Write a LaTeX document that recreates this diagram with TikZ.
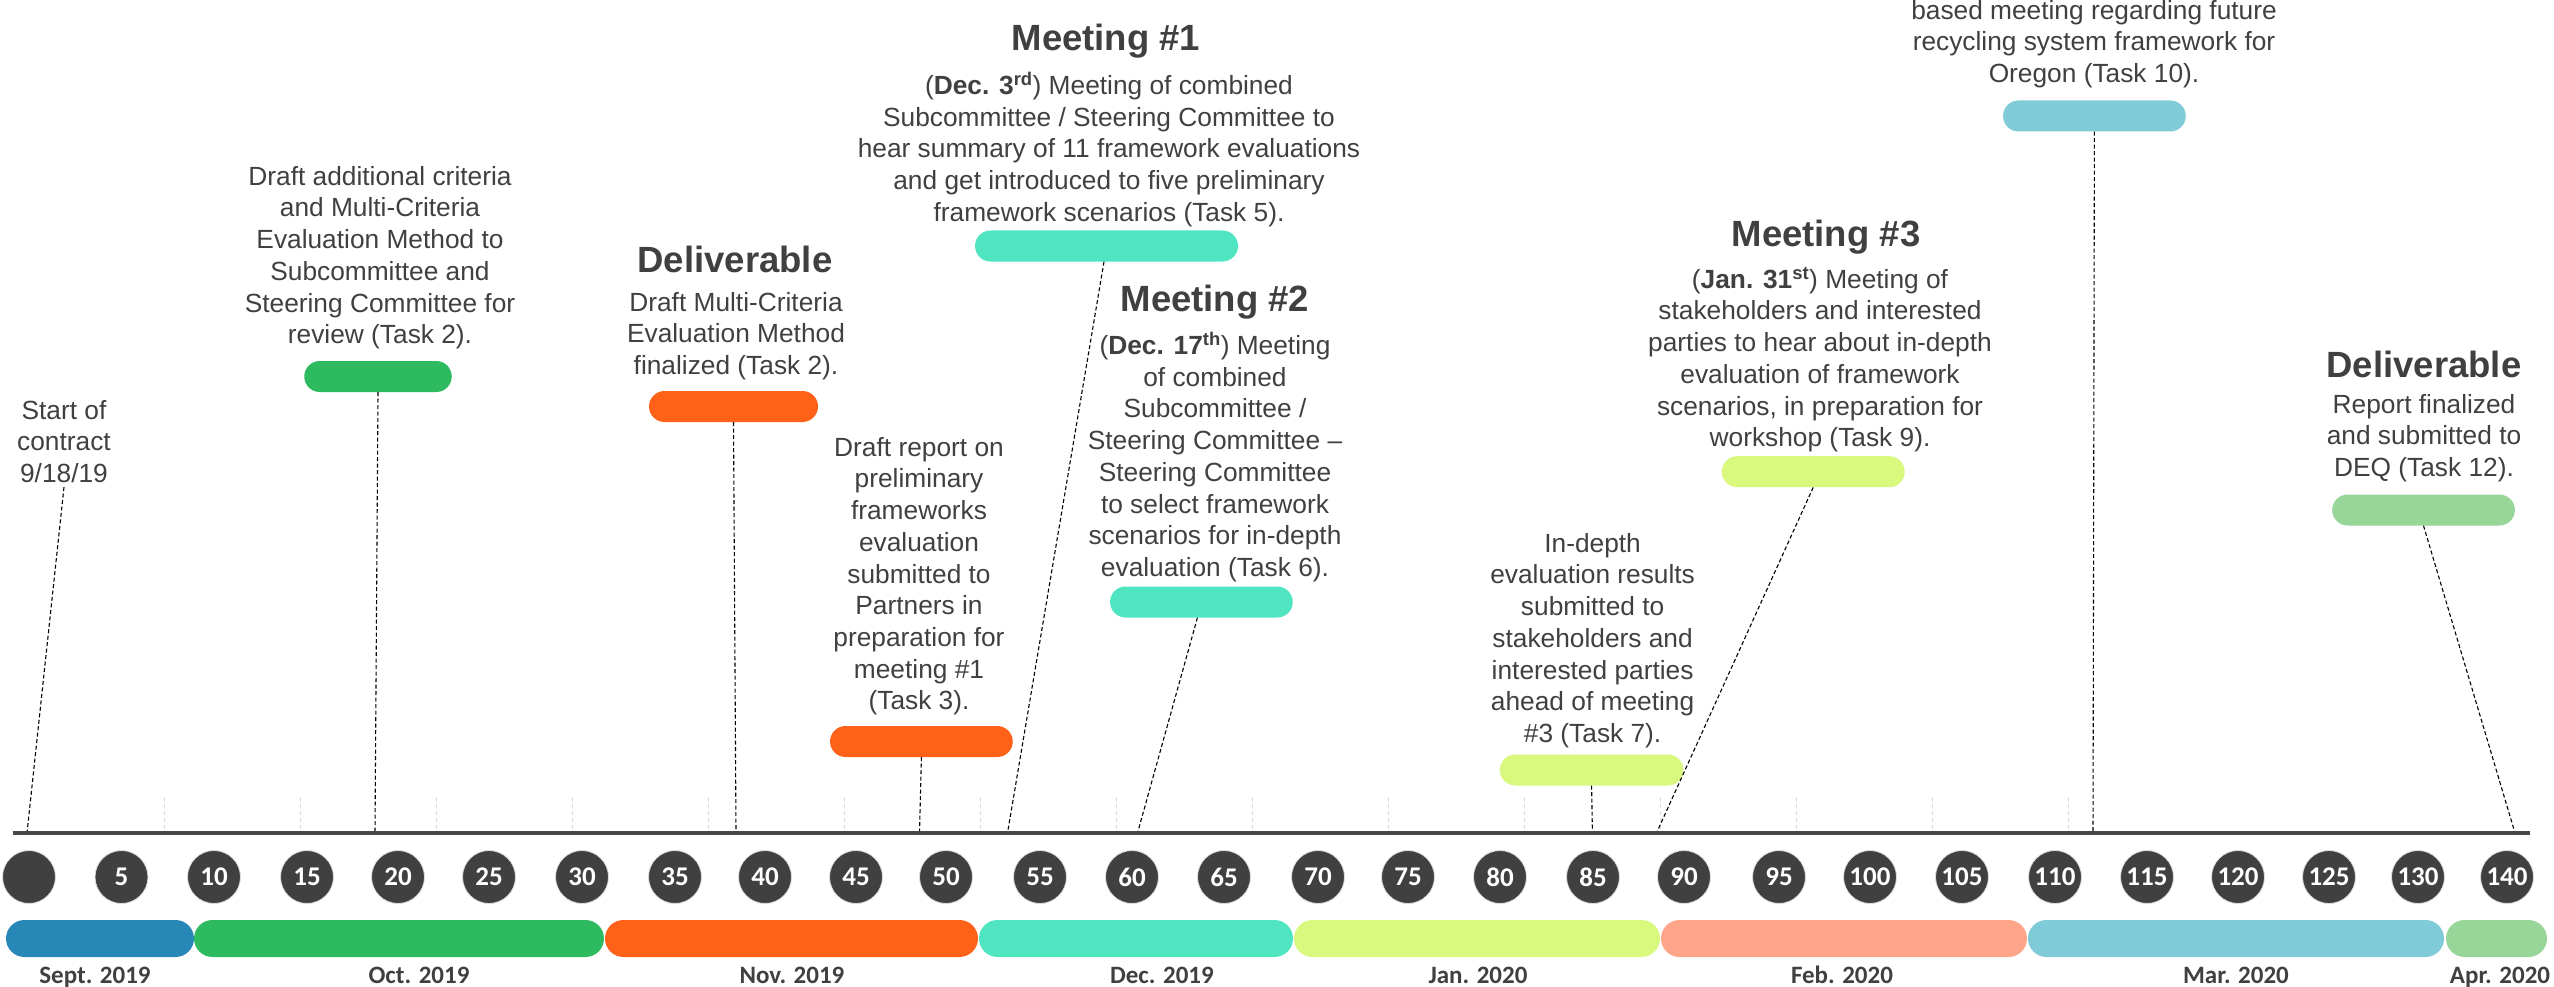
\documentclass[tikz,border=0pt]{standalone}
\usepackage{fontspec}
\setmainfont{Liberation Sans}
\newfontfamily\calib{Carlito}
\definecolor{txtgray}{HTML}{404040}
\definecolor{dotgray}{HTML}{404040}
\definecolor{tickgray}{HTML}{DADADA}
\definecolor{axgray}{HTML}{484848}
\definecolor{cblue}{HTML}{2787B7}
\definecolor{cgreen}{HTML}{2EBB5F}
\definecolor{corange}{HTML}{FF6119}
\definecolor{cteal}{HTML}{50E5C1}
\definecolor{clime}{HTML}{D8F87E}
\definecolor{csalmon}{HTML}{FFA68A}
\definecolor{clblue}{HTML}{80CBD8}
\definecolor{clgreen}{HTML}{98D598}
\tikzset{
 txt/.style={font=\fontsize{26.3}{31.7}\selectfont, text=txtgray, align=center, inner sep=0pt, anchor=north},
 head/.style={font=\fontsize{36.5}{40}\selectfont\bfseries, text=txtgray, inner sep=0pt},
 pill/.style={fill=#1, rounded corners=15.5pt, minimum height=31pt, inner sep=0pt},
 conn/.style={draw=black, line width=1.1pt, dash pattern=on 4pt off 2.5pt},
 gtick/.style={draw=tickgray, line width=1pt, dash pattern=on 4pt off 3pt},
 axisline/.style={draw=axgray, line width=4pt},
 daydot/.style={circle, fill=dotgray, draw=white!75!gray, line width=0.8pt, minimum size=53pt, inner sep=0pt, text=white, font=\calib\bfseries\fontsize{27}{30}\selectfont},
 monthbar/.style={fill=#1, rounded corners=18.5pt, minimum height=37pt, inner sep=0pt},
 monthlbl/.style={font=\calib\bfseries\fontsize{25}{28}\selectfont, text=txtgray, inner sep=0pt, anchor=base}
}
\begin{document}
\begin{tikzpicture}[x=1pt,y=-1pt]
\useasboundingbox (0,0) rectangle (2554,987);
\fill[white] (0,0) rectangle (2554,987);

% light grey ticks above the axis
\foreach \t in {164,300,...,2068} \draw[gtick] (\t,797) -- (\t,833);

% axis
\coordinate (ax0) at (13,833);
\coordinate (ax1) at (2530,833);

% events: texts and pills
\node[txt] (tA) at (64,400) {Start of\\contract\\9/18/19};

\node[txt] (tB) at (380,166) {Draft additional criteria\\and Multi-Criteria\\Evaluation Method to\\Subcommittee and\\Steering Committee for\\review (Task 2).};
\node[pill=cgreen, minimum width=147.5pt] (pB) at (378,376.5) {};

\node[head] (hC) at (735,259) {Deliverable};
\node[txt] (tC) at (736,292) {Draft Multi-Criteria\\Evaluation Method\\finalized (Task 2).};
\node[pill=corange, minimum width=169pt] (pC) at (733.5,406.5) {};

\node[txt] (tD) at (919,437) {Draft report on\\preliminary\\frameworks\\evaluation\\submitted to\\Partners in\\preparation for\\meeting \#1\\(Task 3).};
\node[pill=corange, minimum width=182.7pt] (pD) at (921.4,741.5) {};

\node[head] (hE) at (1106,41) {Meeting \#1};
\node[txt] (tE) at (1109,72) {(\textbf{Dec. 3\textsuperscript{rd}}) Meeting of combined\\Subcommittee / Steering Committee to\\hear summary of 11 framework evaluations\\and get introduced to five preliminary\\framework scenarios (Task 5).};
\node[pill=cteal, minimum width=263pt] (pE) at (1106.5,246) {};

\node[head] (hF) at (1215,301.7) {Meeting \#2};
\node[txt] (tF) at (1215,332) {(\textbf{Dec. 17\textsuperscript{th}}) Meeting\\of combined\\Subcommittee /\\Steering Committee –\\Steering Committee\\to select framework\\scenarios for in-depth\\evaluation (Task 6).};
\node[pill=cteal, minimum width=182.7pt] (pF) at (1201.4,602) {};

\node[txt] (tG) at (1592.6,533) {In-depth\\evaluation results\\submitted to\\stakeholders and\\interested parties\\ahead of meeting\\\#3 (Task 7).};
\node[pill=clime, minimum width=183.6pt] (pG) at (1591.6,770) {};

\node[head] (hH) at (1826,237.3) {Meeting \#3};
\node[txt] (tH) at (1820,267) {(\textbf{Jan. 31\textsuperscript{st}}) Meeting of\\stakeholders and interested\\parties to hear about in-depth\\evaluation of framework\\scenarios, in preparation for\\workshop (Task 9).};
\node[pill=clime, minimum width=183pt] (pH) at (1813.2,471.7) {};

\node[txt] (tI) at (2094,0) {based meeting regarding future\\recycling system framework for\\Oregon (Task 10).};
\node[pill=clblue, minimum width=182.7pt] (pI) at (2094.4,116) {};

\node[head] (hJ) at (2424,364.8) {Deliverable};
\node[txt] (tJ) at (2424,394) {Report finalized\\and submitted to\\DEQ (Task 12).};
\node[pill=clgreen, minimum width=182.7pt] (pJ) at (2423.5,510) {};

% connector ends on the axis
\coordinate (eA) at (27,833);
\coordinate (eB) at (375,833);
\coordinate (eC) at (736,833);
\coordinate (eD) at (919.5,833);
\coordinate (eE) at (1007.5,833);
\coordinate (eF) at (1137.5,833);
\coordinate (eG) at (1592.4,833);
\coordinate (eH) at (1656.5,833);
\coordinate (eI) at (2093,833);
\coordinate (eJ) at (2515,833);

\draw[conn] ([yshift=-4pt]tA.south) -- (eA);
\draw[conn] (pB.south) -- (eB);
\draw[conn] (pC.south) -- (eC);
\draw[conn] (pD.south) -- (eD);
\draw[conn] ([xshift=-2.5pt]pE.south) -- (eE);
\draw[conn] ([xshift=-4pt]pF.south) -- (eF);
\draw[conn] (pG.south) -- (eG);
\draw[conn] (pH.south) -- (eH);
\draw[conn] (pI.south) -- (eI);
\draw[conn] (pJ.south) -- (eJ);

\draw[axisline] (ax0) -- (ax1);

% day markers
\foreach \x/\l [count=\i] in {29/{},121.5/5,214/10,307/15,398/20,489/25,582/30,675/35,765/40,856/45,946/50,1040/55,1132/60,1224/65,1318/70,1408/75,1500/80,1593/85,1684/90,1779/95,1870/100,1962/105,2055/110,2147/115,2238/120,2329/125,2418/130,2507/140}
  \node[daydot] (d\i) at (\x,877) {\l};

% month bars
\node[monthbar=cblue, minimum width=188pt] (mSep) at (100,938.5) {};
\node[monthbar=cgreen, minimum width=410pt] (mOct) at (399,938.5) {};
\node[monthbar=corange, minimum width=373pt] (mNov) at (791.5,938.5) {};
\node[monthbar=cteal, minimum width=314pt] (mDec) at (1136,938.5) {};
\node[monthbar=clime, minimum width=366pt] (mJan) at (1477,938.5) {};
\node[monthbar=csalmon, minimum width=366pt] (mFeb) at (1844,938.5) {};
\node[monthbar=clblue, minimum width=416pt] (mMar) at (2236,938.5) {};
\node[monthbar=clgreen, minimum width=101pt] (mApr) at (2496.5,938.5) {};

% month labels
\node[monthlbl] (lSep) at (95,983) {Sept. 2019};
\node[monthlbl] (lOct) at (419,983) {Oct. 2019};
\node[monthlbl] (lNov) at (792,983) {Nov. 2019};
\node[monthlbl] (lDec) at (1162,983) {Dec. 2019};
\node[monthlbl] (lJan) at (1478,983) {Jan. 2020};
\node[monthlbl] (lFeb) at (1842,983) {Feb. 2020};
\node[monthlbl] (lMar) at (2236,983) {Mar. 2020};
\node[monthlbl] (lApr) at (2500,983) {Apr. 2020};
\end{tikzpicture}
\end{document}
